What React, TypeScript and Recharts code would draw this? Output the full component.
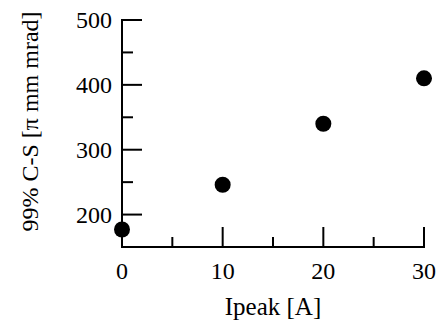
import React from "react";
import {Label, Scatter, ScatterChart, XAxis, YAxis} from "recharts";

const ipeak = [0, 10, 20, 30];
const emittance = [177, 246, 340, 410];
const xTicks = [0, 5, 10, 15, 20, 25, 30];
const xMajor = [0, 10, 20, 30];
const yTicks = [200, 250, 300, 350, 400, 450, 500];
const yMajor = [200, 300, 400, 500];
const xTitle = "Ipeak [A]";
const yTitle = "99% C-S [\u03c0 mm mrad]";

const data = ipeak.map((x, i) => ({x, y: emittance[i]}));

const ink = "#000";
const serif = {fontFamily: "\"Liberation Serif\", \"Times New Roman\", \"DejaVu Serif\", serif"};
const frame = {stroke: ink, strokeWidth: 2, strokeLinecap: "square" as const};

const BottomTick = (props: any) => {
    const {x, y, payload} = props;
    const major = xMajor.includes(payload.value);
    return (
        <g>
            <line x1={x} x2={x} y1={y} y2={y - (major ? 20 : 10)} stroke={ink} strokeWidth={2}/>
            {major && (
                <text x={x} y={y + 32} textAnchor="middle" style={serif} fontSize={24} fill={ink}>
                    {payload.value}
                </text>
            )}
        </g>
    );
};

const TopTick = (props: any) => {
    const {x, y} = props;
    return <line x1={x} x2={x} y1={y} y2={y + 10} stroke={ink} strokeWidth={2}/>;
};

const LeftTick = (props: any) => {
    const {x, y, payload} = props;
    const major = yMajor.includes(payload.value);
    return (
        <g>
            <line x1={x} x2={x + (major ? 20 : 11)} y1={y} y2={y} stroke={ink} strokeWidth={2}/>
            {major && (
                <text x={x - 10} y={y + 8} textAnchor="end" style={serif} fontSize={24} fill={ink}>
                    {payload.value}
                </text>
            )}
        </g>
    );
};

const RightTick = (props: any) => {
    const {x, y, payload} = props;
    const major = yMajor.includes(payload.value);
    return <line x1={x} x2={x - (major ? 20 : 12)} y1={y} y2={y} stroke={ink} strokeWidth={2}/>;
};

const Dot = (props: any) => <circle cx={props.cx} cy={props.cy} r={8} fill={ink}/>;

export default function App() {
    return (
        <div style={{position: "absolute", left: 0, top: 0, background: "#fff"}}>
            <ScatterChart width={438} height={320} margin={{top: 20, right: 14, bottom: 43, left: 82}}>
                <XAxis xAxisId="b" dataKey="x" type="number" domain={[0, 30]} ticks={xTicks} interval={0}
                       height={30} tickSize={0} tickMargin={0} axisLine={frame} tickLine={false} tick={<BottomTick/>}>
                    <Label content={(p: any) => (
                        <text x={p.viewBox.x + p.viewBox.width / 2} y={p.viewBox.y + 68} textAnchor="middle"
                              style={serif} fontSize={25} fill={ink}>{xTitle}</text>
                    )}/>
                </XAxis>
                <XAxis xAxisId="t" orientation="top" type="number" domain={[0, 30]} ticks={xTicks} interval={0}
                       height={0} tickSize={0} tickMargin={0} axisLine={frame} tickLine={false} tick={<TopTick/>}/>
                <YAxis yAxisId="l" dataKey="y" type="number" domain={[150, 500]} ticks={yTicks} interval={0}
                       width={40} tickSize={0} tickMargin={0} axisLine={frame} tickLine={false} tick={<LeftTick/>}>
                    <Label content={(p: any) => {
                        const cy = p.viewBox.y + p.viewBox.height / 2 - 12;
                        return (
                            <text x={38} y={cy} transform={`rotate(-90 38 ${cy})`} textAnchor="middle"
                                  style={serif} fontSize={24} fill={ink}>{yTitle}</text>
                        );
                    }}/>
                </YAxis>
                <YAxis yAxisId="r" orientation="right" type="number" domain={[150, 500]} ticks={yTicks} interval={0}
                       width={0} tickSize={0} tickMargin={0} axisLine={frame} tickLine={false} tick={<RightTick/>}/>
                <Scatter data={data} xAxisId="b" yAxisId="l" fill={ink} shape={<Dot/>} isAnimationActive={false}/>
            </ScatterChart>
        </div>
    );
}
